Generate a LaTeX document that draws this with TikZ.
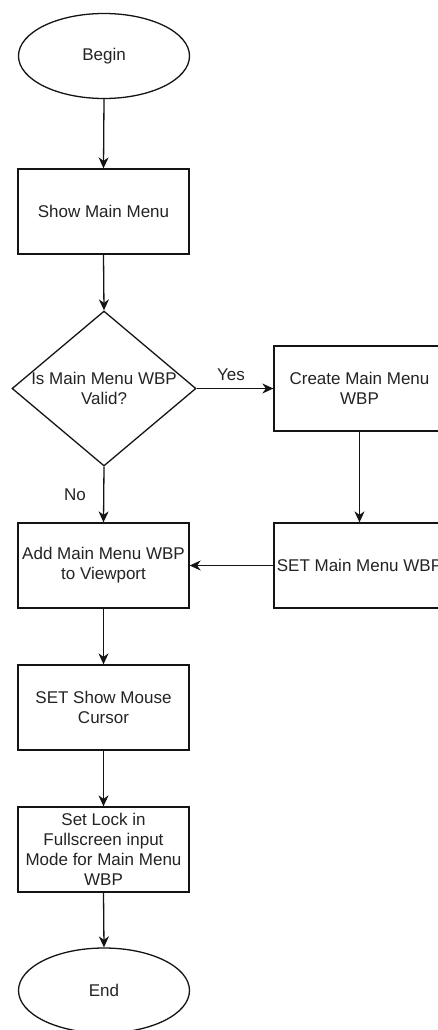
\documentclass[tikz,border=0pt]{standalone}
\usepackage{fontspec}
\setmainfont{Liberation Sans}
\usetikzlibrary{shapes.geometric,arrows.meta}
\definecolor{inkline}{RGB}{20,20,20}
\definecolor{inktext}{RGB}{35,35,35}
\begin{document}
\begin{tikzpicture}[x=1pt,y=-1pt,
  every node/.style={font=\fontsize{17}{20}\selectfont, text=inktext},
  procbox/.style={draw=inkline, line width=1.3pt, rectangle, minimum width=171pt, minimum height=85pt, inner sep=0pt, align=center},
  terminal/.style={draw=inkline, line width=1.3pt, ellipse, minimum width=171pt, minimum height=85pt, inner sep=0pt},
  decision/.style={draw=inkline, line width=1.3pt, diamond, minimum width=184pt, minimum height=155pt, inner sep=0pt},
  flow/.style={draw=inkline, line width=1.3pt, -{Stealth[length=11pt,width=10pt,inset=3.5pt]}},
  tag/.style={inner sep=0pt}
]
\useasboundingbox (0,0) rectangle (438,1030);
\clip (0,0) rectangle (438,1030);

% process steps down the main column
\node[terminal] (begin) at (104,56) {Begin};
\node[procbox] (show) at (103.5,211.5) {Show Main Menu};
\node[decision] (valid) at (104,388.5) {};
\node[align=center, inner sep=0pt] (validtxt) at (104,388) {Is Main Menu WBP\\Valid?};
\node[procbox] (add) at (103.5,565.5) {Add Main Menu WBP\\to Viewport};
\node[procbox] (cursor) at (103.5,707.5) {SET Show Mouse\\Cursor};
\node[procbox] (lock) at (103.5,849.5) {Set Lock in\\Fullscreen input\\Mode for Main Menu\\WBP};
\node[terminal] (end) at (104,990.5) {End};

% widget creation branch
\node[procbox] (create) at (359.5,388.5) {Create Main Menu\\WBP};
\node[procbox] (setwbp) at (359.5,565.5) {SET Main Menu WBP};

\draw[flow] (begin.south) -- (show.north);
\draw[flow] (show.south) -- (valid.north);
\draw[flow] (valid.east) -- (create.west);
\draw[flow] (valid.south) -- (add.north);
\draw[flow] (create.south) -- (setwbp.north);
\draw[flow] (setwbp.west) -- (add.east);
\draw[flow] (add.south) -- (cursor.north);
\draw[flow] (cursor.south) -- (lock.north);
\draw[flow] (lock.south) -- (end.north);

\node[tag] (yes) at (231,375) {Yes};
\node[tag] (no) at (75,495) {No};
\end{tikzpicture}
\end{document}
